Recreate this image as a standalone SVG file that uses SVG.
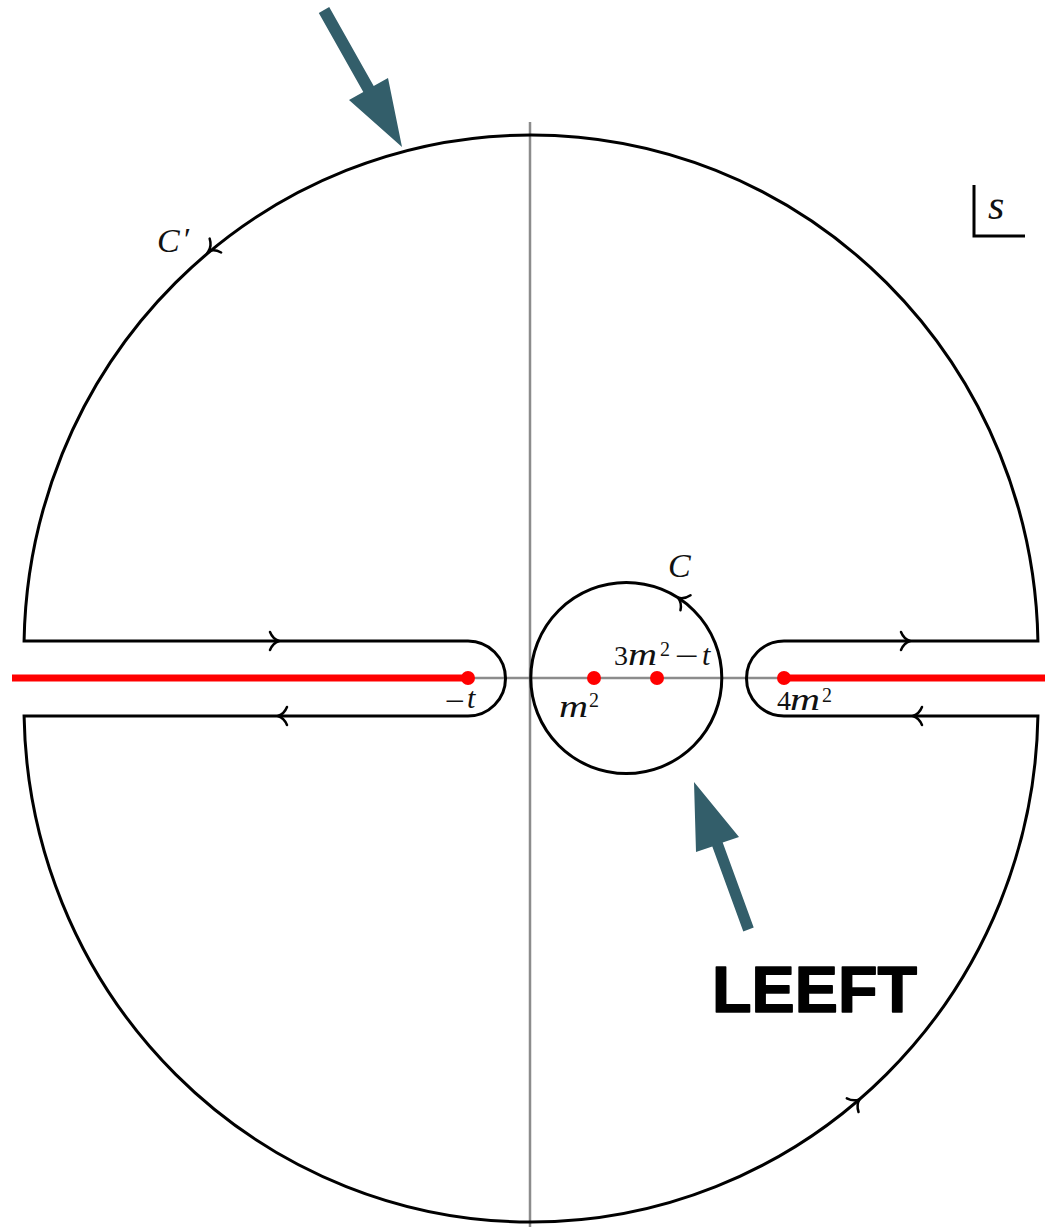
<svg xmlns="http://www.w3.org/2000/svg" width="1045" height="1227" viewBox="0 0 1045 1227">
<style>
.axis{stroke:#8c8c8c;stroke-width:2.5;fill:none}
.contour{stroke:#000;stroke-width:3;fill:none;stroke-linejoin:miter}
.cut{stroke:#ff0000;stroke-width:7;fill:none}
.pt{fill:#ff0000}
.chev{stroke:#000;stroke-width:2.5;fill:none;stroke-linecap:round}
.math{font-family:"Liberation Serif",serif;font-style:italic;fill:#111}
.num{font-family:"Liberation Serif",serif;fill:#111}
.big{fill:#335e6a}
</style>
<defs>
<path id="chev" d="M -7,-9 C -5,-4 -1,-1 2,0 C -1,1 -5,4 -7,9"/>
</defs>
<rect width="1045" height="1227" fill="#fff"/>
<g id="axes">
<line class="axis" x1="530" y1="122" x2="530" y2="1227"/>
<line class="axis" x1="12" y1="678" x2="1045" y2="678"/>
</g>
<g id="branch-cuts">
<line class="cut" x1="12" y1="678" x2="468" y2="678"/>
<line class="cut" x1="784" y1="678" x2="1045" y2="678"/>
</g>
<g id="connectors">
<path id="contour-Cprime" class="contour" d="M 1037.92,641 A 507 515 0 0 0 531,135 A 507 515 0 0 0 24.08,641 L 468,641 A 37.5 37.5 0 0 1 468,716 L 24.08,716 A 507 515 0 0 0 531,1222 A 507 515 0 0 0 1037.92,716 L 784,716 A 37.5 37.5 0 0 1 784,641 Z"/>
<circle id="contour-C" class="contour" cx="626.3" cy="678" r="95.5"/>
<g class="chev">
<use href="#chev" transform="translate(277,641)"/>
<use href="#chev" transform="translate(280,716) rotate(180)"/>
<use href="#chev" transform="translate(908,641)"/>
<use href="#chev" transform="translate(915,716) rotate(180)"/>
<use href="#chev" transform="translate(210,250) rotate(140.4)"/>
<use href="#chev" transform="translate(858,1100.6) rotate(-40.6)"/>
<use href="#chev" transform="translate(679.7,598.8) rotate(-146)"/>
</g>
</g>
<g id="points">
<circle class="pt" cx="468" cy="678" r="7"/>
<circle class="pt" cx="594" cy="678" r="7"/>
<circle class="pt" cx="657" cy="678" r="7"/>
<circle class="pt" cx="784" cy="678" r="7"/>
</g>
<g id="label-minus-t">
<text class="num" x="445" y="711" font-size="30" textLength="20" lengthAdjust="spacingAndGlyphs">−</text>
<text class="math" x="467" y="708" font-size="30">t</text>
</g>
<g id="label-m2">
<text class="math" x="559" y="717" font-size="32" textLength="29" lengthAdjust="spacingAndGlyphs">m</text>
<text class="num" x="589" y="707" font-size="20">2</text>
</g>
<g id="label-3m2-t">
<text class="num" x="614" y="665" font-size="28">3</text>
<text class="math" x="628" y="665" font-size="32" textLength="29" lengthAdjust="spacingAndGlyphs">m</text>
<text class="num" x="660" y="656" font-size="20">2</text>
<text class="num" x="675" y="666" font-size="30" textLength="24" lengthAdjust="spacingAndGlyphs">−</text>
<text class="math" x="702" y="665" font-size="30">t</text>
</g>
<g id="label-4m2">
<text class="num" x="777" y="710" font-size="28">4</text>
<text class="math" x="790" y="710" font-size="32" textLength="30" lengthAdjust="spacingAndGlyphs">m</text>
<text class="num" x="822" y="702" font-size="20">2</text>
</g>
<g id="label-C">
<text class="math" x="668" y="577" font-size="34">C</text>
</g>
<g id="label-Cprime">
<text class="math" x="157" y="252" font-size="34">C</text>
<text class="num" x="184" y="250" font-size="32">′</text>
</g>
<g id="s-plane">
<path d="M 974,185 V 236 H 1025" stroke="#000" stroke-width="3" fill="none"/>
<text class="math" x="988" y="219" font-size="42">s</text>
</g>
<g id="arrow-top">
<polygon class="big" points="318.8,13 329.2,7 373.7,86 388,78 402,147 349,100 363.3,92"/>
</g>
<g id="arrow-leeft">
<polygon class="big" points="743.3,931.4 753.7,927.6 722.7,842.6 739,837 694,782 696,852 712.3,846.4"/>
</g>
<g id="label-leeft">
<text x="712" y="1012" font-family="'Liberation Sans',Arial,sans-serif" font-weight="bold" font-size="65" textLength="205" lengthAdjust="spacingAndGlyphs" stroke="#000" stroke-width="1.5" stroke-linejoin="round">LEEFT</text>
</g>
</svg>
